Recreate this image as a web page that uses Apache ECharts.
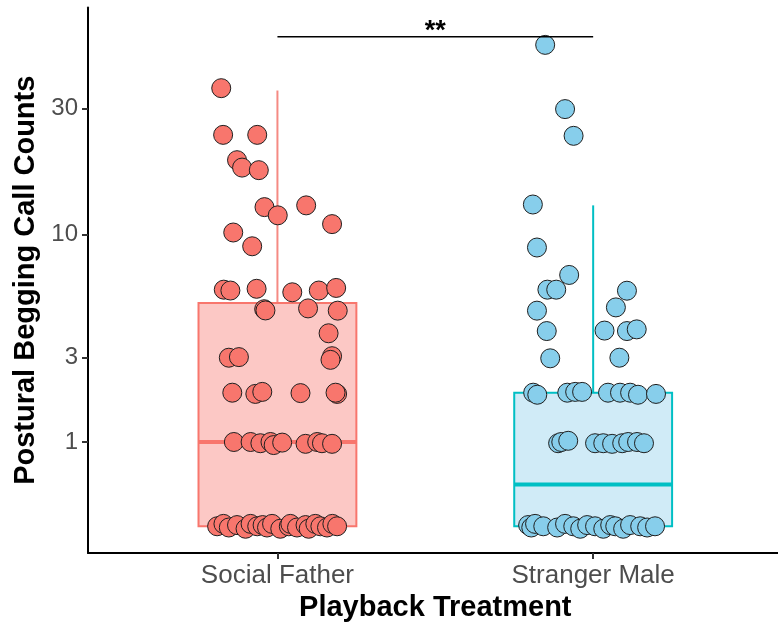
<!DOCTYPE html>
<html>
<head>
<meta charset="utf-8">
<script src="https://cdn.jsdelivr.net/npm/echarts@6/dist/echarts.min.js"></script>
<style>
  html, body { margin: 0; padding: 0; background: #fff; }
  #chart { width: 778px; height: 627px; }
</style>
</head>
<body>
<div id="chart"></div>
<script>
// Playback treatments (x categories)
const categories = ['Social Father', 'Stranger Male'];

// Y-axis tick labels (counts, pseudo-log scale)
const yTicks = [1, 3, 10, 30];

// Jittered observations: [x position around category index, call count]
const socialFatherPoints = [
  [0.822, 35.7], [0.828, 24.0], [0.936, 24.0], [0.872, 19.3], [0.888, 18.1],
  [0.941, 17.7], [0.959, 12.8], [1.001, 11.9], [1.091, 13.0], [1.173, 11.0],
  [0.860, 10.2], [0.920, 9.0],
  [0.830, 6.0], [0.851, 5.95], [0.934, 6.05], [1.047, 5.85], [1.131, 5.95], [1.186, 6.1],
  [0.958, 4.96], [0.962, 4.9], [1.097, 5.0], [1.191, 4.89],
  [1.162, 3.89],
  [0.846, 3.0], [0.878, 3.02], [1.173, 3.05], [1.168, 2.93],
  [0.857, 2.0], [0.930, 1.97], [0.952, 2.02], [1.073, 1.99], [1.189, 1.97], [1.184, 2.0],
  [0.862, 1.0], [0.915, 1.0], [0.946, 0.98], [0.978, 1.0], [0.988, 0.95],
  [1.015, 0.99], [1.089, 0.97], [1.126, 1.0], [1.141, 0.98], [1.173, 0.97],
  [0.809, 0.0], [0.829, 0.02], [0.846, -0.01], [0.872, 0.01], [0.899, -0.02],
  [0.915, 0.02], [0.936, 0.0], [0.953, 0.01], [0.967, -0.01], [0.983, 0.02],
  [1.009, -0.02], [1.036, 0.0], [1.041, 0.02], [1.062, -0.01], [1.089, 0.01],
  [1.099, -0.02], [1.120, 0.02], [1.136, 0.0], [1.157, -0.01], [1.174, 0.02], [1.189, 0.0]
];

const strangerMalePoints = [
  [1.848, 51.4], [1.911, 29.9], [1.938, 23.8], [1.809, 13.1], [1.822, 8.9],
  [1.924, 6.9], [1.855, 6.0], [1.883, 6.0], [2.107, 5.94],
  [1.822, 4.89], [2.072, 5.05],
  [1.853, 3.98], [2.036, 4.0], [2.107, 3.98], [2.138, 4.05],
  [1.864, 2.98], [2.083, 3.0],
  [1.810, 2.0], [1.823, 1.95], [1.918, 2.0], [1.943, 2.02], [1.965, 2.02],
  [2.047, 2.0], [2.085, 2.0], [2.117, 2.0], [2.142, 1.95], [2.199, 1.97],
  [1.889, 0.98], [1.899, 1.0], [1.921, 1.02], [2.006, 0.98], [2.032, 0.98],
  [2.060, 0.97], [2.092, 0.98], [2.111, 1.0], [2.139, 1.0], [2.161, 0.98],
  [1.794, 0.01], [1.804, -0.01], [1.816, 0.02], [1.842, 0.0], [1.886, -0.01],
  [1.911, 0.02], [1.937, 0.0], [1.959, -0.02], [1.981, 0.01], [2.006, 0.0],
  [2.032, -0.02], [2.054, 0.01], [2.070, 0.0], [2.095, -0.02], [2.117, 0.01],
  [2.149, 0.0], [2.171, -0.01], [2.196, 0.0]
];

// Box summaries in counts: [category index, lower whisker, Q1, median, Q3, upper whisker]
const socialFatherBox = [1, 0, 0, 1, 5.27, 35];
const strangerMaleBox = [2, 0, 0, 0.41, 2, 13];

// Significance bracket between the two groups
const bracket = { from: 1, to: 2, y: 55, label: '**' };

// pseudo-log transform: log10(count + 1)
const T = v => Math.log10(v + 1);
const Tinv = t => Math.pow(10, t) - 1;

const FONT = "'Liberation Sans', Arial, sans-serif";
const BOX_HALF = 0.25;

const groups = [
  { box: socialFatherBox, pts: socialFatherPoints, fill: '#FCC8C5', stroke: '#F8766D', whisker: '#F58A83', point: '#F8766D' },
  { box: strangerMaleBox, pts: strangerMalePoints, fill: '#D0EBF7', stroke: '#00BFC4', whisker: '#00BFC4', point: '#87CEEB' }
];

function boxRender(g) {
  return function (params, api) {
    const [c, lo, q1, med, q3, hi] = g.box;
    const p = (x, v) => api.coord([x, T(v)]);
    const tl = p(c - BOX_HALF, q3), br = p(c + BOX_HALF, q1);
    const ml = p(c - BOX_HALF, med), mr = p(c + BOX_HALF, med);
    const wTop = p(c, hi), wQ3 = p(c, q3), wBot = p(c, lo), wQ1 = p(c, q1);
    return {
      type: 'group',
      children: [
        { type: 'line', shape: { x1: wQ3[0], y1: wQ3[1], x2: wTop[0], y2: wTop[1] },
          style: { stroke: g.whisker, lineWidth: 2 } },
        { type: 'line', shape: { x1: wQ1[0], y1: wQ1[1], x2: wBot[0], y2: wBot[1] },
          style: { stroke: g.whisker, lineWidth: 2 } },
        { type: 'rect', shape: { x: tl[0], y: tl[1], width: br[0] - tl[0], height: br[1] - tl[1] },
          style: { fill: g.fill, stroke: g.stroke, lineWidth: 2 } },
        { type: 'line', shape: { x1: ml[0], y1: ml[1], x2: mr[0], y2: mr[1] },
          style: { stroke: g.stroke, lineWidth: 4 } }
      ]
    };
  };
}

const series = [];
groups.forEach(g => {
  series.push({
    type: 'custom',
    renderItem: boxRender(g),
    data: [[g.box[0], T(g.box[5])]],
    z: 1,
    silent: true
  });
});
groups.forEach(g => {
  series.push({
    type: 'scatter',
    data: g.pts.map(d => [d[0], T(d[1])]),
    symbolSize: 19,
    itemStyle: { color: g.point, borderColor: '#1f1f1f', borderWidth: 1, opacity: 1 },
    z: 3,
    silent: true
  });
});
series.push({
  type: 'custom',
  data: [[bracket.from, T(bracket.y)]],
  z: 4,
  silent: true,
  renderItem: function (params, api) {
    const a = api.coord([bracket.from, T(bracket.y)]);
    const b = api.coord([bracket.to, T(bracket.y)]);
    return {
      type: 'group',
      children: [
        { type: 'line', shape: { x1: a[0], y1: a[1], x2: b[0], y2: b[1] },
          style: { stroke: '#000', lineWidth: 1.6 } },
        { type: 'text', x: (a[0] + b[0]) / 2, y: a[1] + 8,
          style: { text: bracket.label, fill: '#000', font: 'bold 27px ' + FONT,
                   align: 'center', verticalAlign: 'bottom' } }
      ]
    };
  }
});

const chart = echarts.init(document.getElementById('chart'), null, { renderer: 'canvas' });
chart.setOption({
  animation: false,
  backgroundColor: '#ffffff',
  grid: { left: 88, top: 7.5, width: 694.6, height: 545.5, containLabel: false, outerBoundsMode: 'none' },
  xAxis: {
    type: 'value',
    min: 0.4,
    max: 2.6,
    name: 'Playback Treatment',
    nameLocation: 'middle',
    nameGap: 38,
    nameTextStyle: { fontFamily: FONT, fontWeight: 'bold', fontSize: 29, color: '#000' },
    axisLine: { show: true, onZero: false, lineStyle: { color: '#000', width: 2 } },
    axisTick: { show: true, length: 6, customValues: [1, 2], lineStyle: { color: '#333', width: 2 } },
    axisLabel: {
      customValues: [1, 2],
      formatter: v => categories[Math.round(v) - 1],
      margin: 10,
      fontFamily: FONT, fontSize: 26, color: '#4D4D4D'
    },
    splitLine: { show: false }
  },
  yAxis: {
    type: 'value',
    min: -0.0954,
    max: 1.8528,
    name: 'Postural Begging Call Counts',
    nameLocation: 'middle',
    nameGap: 48,
    nameTextStyle: { fontFamily: FONT, fontWeight: 'bold', fontSize: 29, color: '#000' },
    axisLine: { show: true, onZero: false, lineStyle: { color: '#000', width: 2 } },
    axisTick: { show: true, length: 6, customValues: yTicks.map(T), lineStyle: { color: '#333', width: 2 } },
    axisLabel: {
      customValues: yTicks.map(T),
      formatter: v => String(Math.round(Tinv(v))),
      margin: 10,
      fontFamily: FONT, fontSize: 24, color: '#4D4D4D'
    },
    splitLine: { show: false }
  },
  series: series
});
</script>
</body>
</html>
